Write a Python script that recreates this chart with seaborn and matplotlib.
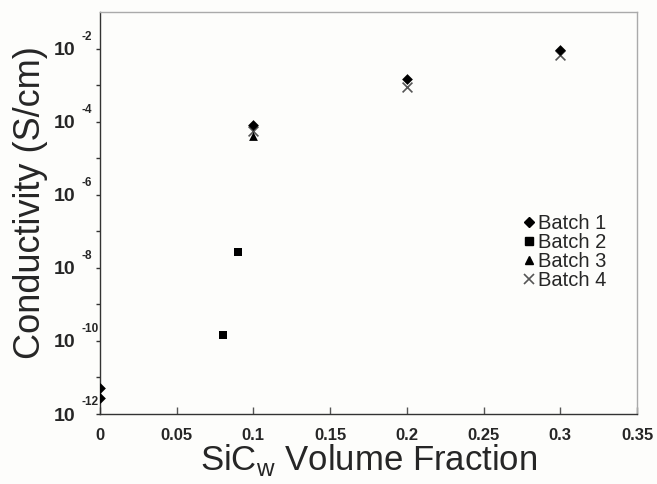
import matplotlib
matplotlib.use("Agg")
import matplotlib.pyplot as plt
import matplotlib.ticker as mticker
import matplotlib.transforms as mtrans
from matplotlib.lines import Line2D
import seaborn as sns
import pandas as pd

# ---- data ----
batch1_x = [0.0, 0.0, 0.1, 0.2, 0.3]
batch1_y = [5.0e-12, 2.8e-12, 8.0e-5, 1.5e-3, 9.3e-3]
batch2_x = [0.08, 0.09]
batch2_y = [1.45e-10, 2.7e-8]
batch3_x = [0.1]
batch3_y = [4.0e-5]
batch4_x = [0.1, 0.2, 0.3]
batch4_y = [5.5e-5, 9.0e-4, 6.5e-3]

batch_names = ["Batch 1", "Batch 2", "Batch 3", "Batch 4"]
x_ticks = [0, 0.05, 0.1, 0.15, 0.2, 0.25, 0.3, 0.35]
x_tick_labels = ["0", "0.05", "0.1", "0.15", "0.2", "0.25", "0.3", "0.35"]
y_major = [1e-12, 1e-10, 1e-8, 1e-6, 1e-4, 1e-2]
y_minor = [1e-11, 1e-9, 1e-7, 1e-5, 1e-3]
y_exponents = ["-12", "-10", "-8", "-6", "-4", "-2"]

rows = []
for name, xs, ys in zip(batch_names,
                        [batch1_x, batch2_x, batch3_x, batch4_x],
                        [batch1_y, batch2_y, batch3_y, batch4_y]):
    for a, b in zip(xs, ys):
        rows.append({"x": a, "y": b, "Batch": name})
df = pd.DataFrame(rows)

sns.set_theme(style="white")
plt.rcParams["font.family"] = ["Liberation Sans", "DejaVu Sans"]
plt.rcParams["mathtext.fontset"] = "custom"
plt.rcParams["mathtext.rm"] = "Liberation Sans"
plt.rcParams["mathtext.bf"] = "Liberation Sans:bold"

bg = "#fdfdfb"
fig = plt.figure(figsize=(6.57, 4.84), dpi=100)
fig.patch.set_facecolor(bg)
ax = fig.add_axes([0.152, 0.1446, 0.8176, 0.8304])
ax.set_facecolor(bg)

markers = {"Batch 1": "D", "Batch 2": "s", "Batch 3": "^", "Batch 4": "x"}
palette = {"Batch 1": "black", "Batch 2": "black", "Batch 3": "black", "Batch 4": "#555555"}
sizes = {"Batch 1": 30, "Batch 2": 40, "Batch 3": 40, "Batch 4": 50}

order = ["Batch 4", "Batch 3", "Batch 2", "Batch 1"]
for name in order:
    sub = df[df["Batch"] == name]
    if name == "Batch 4":
        sns.scatterplot(data=sub, x="x", y="y", marker="x", color=palette[name],
                        s=sizes[name], linewidth=1.2, ax=ax, legend=False, zorder=3)
    else:
        sns.scatterplot(data=sub, x="x", y="y", marker=markers[name], color=palette[name],
                        s=sizes[name], linewidth=0, ax=ax, legend=False, zorder=3)

ax.set_yscale("log")
ax.set_xlim(0, 0.35)
ax.set_ylim(1e-12, 1e-1)
ax.yaxis.set_major_locator(mticker.FixedLocator(y_major))
ax.yaxis.set_minor_locator(mticker.FixedLocator(y_minor))
ax.yaxis.set_minor_formatter(mticker.NullFormatter())
ax.set_yticklabels(["10"] * len(y_major), fontsize=14, fontweight="bold")
shift_down = mtrans.ScaledTranslation(0, -2.5 / 72, fig.dpi_scale_trans)
for lab in ax.get_yticklabels():
    lab.set_transform(lab.get_transform() + shift_down)
for yv, ex in zip(y_major, y_exponents):
    ax.annotate(ex, xy=(0, yv), xycoords=ax.get_yaxis_transform(),
                xytext=(-13.5, 4.0), textcoords="offset points",
                ha="left", va="bottom", fontsize=8.5, fontweight="bold",
                annotation_clip=False)
ax.set_xticks(x_ticks)
ax.set_xticklabels(x_tick_labels, fontsize=12, fontweight="bold")

ax.tick_params(axis="y", which="both", direction="out", length=3, width=1,
               color="#333333", left=True, pad=14.5)
ax.tick_params(axis="x", which="major", direction="in", length=5, width=1,
               color="#555555", bottom=True, pad=10)

for s in ["left", "bottom"]:
    ax.spines[s].set_color("#333333")
    ax.spines[s].set_linewidth(1.0)
for s in ["top", "right"]:
    ax.spines[s].set_color("#aaaaaa")
    ax.spines[s].set_linewidth(1.0)

ax.set_xlabel(r"SiC$_{\mathrm{w}}$ Volume Fraction", fontsize=25, labelpad=-0.5)
ax.set_ylabel("Conductivity (S/cm)", fontsize=26)
ax.yaxis.set_label_coords(-0.097, 0.525)

handles = [
    Line2D([], [], marker="D", color="black", linestyle="none", markersize=5),
    Line2D([], [], marker="s", color="black", linestyle="none", markersize=5.5),
    Line2D([], [], marker="^", color="black", linestyle="none", markersize=5.5),
    Line2D([], [], marker="x", color="#555555", linestyle="none", markersize=7, markeredgewidth=1.2),
]
ax.legend(handles, batch_names, loc="upper left", bbox_to_anchor=(0.782, 0.498),
          frameon=False, fontsize=14.5, handletextpad=0.0, handlelength=0.9,
          labelspacing=0.0, borderaxespad=0, borderpad=0)

fig.savefig("out.png", dpi=100, facecolor=fig.get_facecolor())
